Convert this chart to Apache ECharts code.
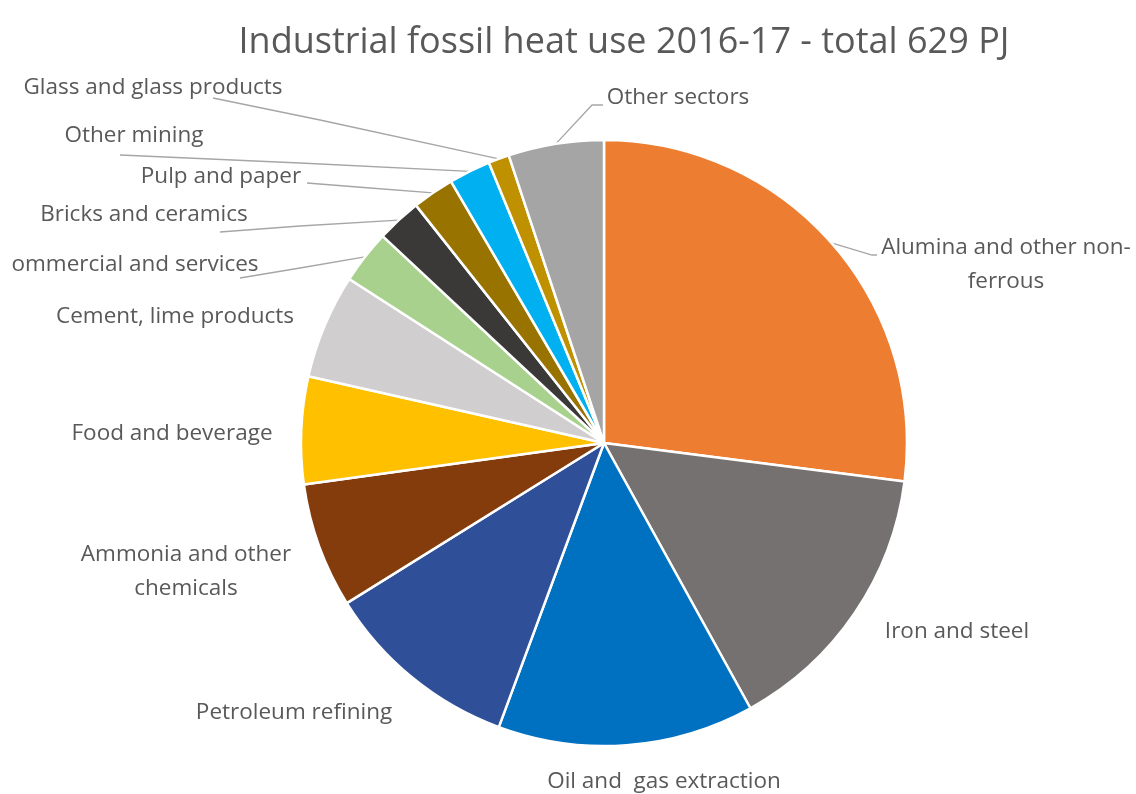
<!DOCTYPE html>
<html>
<head>
<meta charset="utf-8">
<title>Industrial fossil heat use 2016-17</title>
<script src="https://cdn.jsdelivr.net/npm/echarts@6/dist/echarts.min.js"></script>
<style>
  html, body { margin: 0; padding: 0; background: #ffffff; }
  #chart { width: 1136px; height: 794px; }
</style>
</head>
<body>
<div id="chart"></div>
<script>
// Sectors listed clockwise from 12 o'clock
const categories = [
  'Alumina and other non-ferrous',
  'Iron and steel',
  'Oil and gas extraction',
  'Petroleum refining',
  'Ammonia and other chemicals',
  'Food and beverage',
  'Cement, lime products',
  'Commercial and services',
  'Bricks and ceramics',
  'Pulp and paper',
  'Other mining',
  'Glass and glass products',
  'Other sectors'
];

// Fossil heat use by sector, PJ (sums to 629)
const heatUsePJ = [170, 94, 86, 66, 42, 36, 35, 18, 15, 14, 14, 7, 32];

// Text shown beside each slice (line breaks / clipping as printed)
const labelTexts = [
  'Alumina and other non-\nferrous',
  'Iron and steel',
  'Oil and  gas extraction',
  'Petroleum refining',
  'Ammonia and other\nchemicals',
  'Food and beverage',
  'Cement, lime products',
  'ommercial and services',
  'Bricks and ceramics',
  'Pulp and paper',
  'Other mining',
  'Glass and glass products',
  'Other sectors'
];

const sliceColors = [
  '#ED7D31', '#767171', '#0070C0', '#2F4F98', '#843C0C', '#FFC000', '#D0CECE',
  '#A9D18E', '#3B3838', '#997300', '#00B0F0', '#BF9000', '#A5A5A5'
];

const titleText = 'Industrial fossil heat use 2016-17 - total 629 PJ';

// Pie geometry
const CX = 604, CY = 443, R = 303;

// Label placement: text centre and the label-side points of its leader line (if any)
const labelPlacement = [
  { x: 1006, y: 265, line: [[872, 255], [877, 255]] },
  { x: 957, y: 632 },
  { x: 664, y: 782 },
  { x: 294, y: 713 },
  { x: 186, y: 572 },
  { x: 172, y: 434 },
  { x: 175, y: 317 },
  { x: 135, y: 265, line: [[300, 268], [240, 278]] },
  { x: 144, y: 215, line: [[300, 226], [220, 232]] },
  { x: 221, y: 177, line: [[370, 188], [307, 183]] },
  { x: 134, y: 136, line: [[300, 163], [120, 155]] },
  { x: 153, y: 88,  line: [[320, 120], [213, 98]] },
  { x: 678, y: 98,  line: [[592, 105], [603, 105]] }
];

const total = heatUsePJ.reduce((a, b) => a + b, 0);

// Point on the pie rim at a slice's mid angle
function rimPoint(i) {
  let before = 0;
  for (let k = 0; k < i; k++) before += heatUsePJ[k];
  const mid = (before + heatUsePJ[i] / 2) / total * Math.PI * 2;
  return [CX + R * Math.sin(mid), CY - R * Math.cos(mid)];
}

const chart = echarts.init(document.getElementById('chart'), null, { renderer: 'canvas' });

const data = categories.map((name, i) => ({
  name: name,
  value: heatUsePJ[i],
  itemStyle: { color: sliceColors[i] },
  label: { formatter: labelTexts[i] },
  labelLine: { show: !!labelPlacement[i].line }
}));

chart.setOption({
  backgroundColor: '#ffffff',
  animation: false,
  title: {
    text: titleText,
    left: 619,
    top: 20,
    textAlign: 'center',
    textStyle: {
      fontFamily: 'Open Sans',
      fontSize: 36,
      fontWeight: 'normal',
      color: '#595959'
    }
  },
  series: [{
    type: 'pie',
    center: [CX, CY],
    radius: R,
    startAngle: 90,
    clockwise: true,
    avoidLabelOverlap: false,
    data: data,
    itemStyle: { borderColor: '#ffffff', borderWidth: 2.5 },
    label: {
      show: true,
      position: 'outside',
      fontFamily: 'Open Sans',
      fontSize: 22.5,
      lineHeight: 34,
      color: '#595959',
      align: 'center'
    },
    labelLine: {
      show: true,
      lineStyle: { color: '#A6A6A6', width: 1.3 }
    },
    emphasis: { disabled: true },
    labelLayout: function (params) {
      const i = params.dataIndex;
      const p = labelPlacement[i];
      const out = { x: p.x, y: p.y, align: 'center', verticalAlign: 'middle' };
      if (p.line) {
        out.labelLinePoints = [rimPoint(i), p.line[0], p.line[1]];
      }
      return out;
    }
  }]
});
</script>
</body>
</html>
